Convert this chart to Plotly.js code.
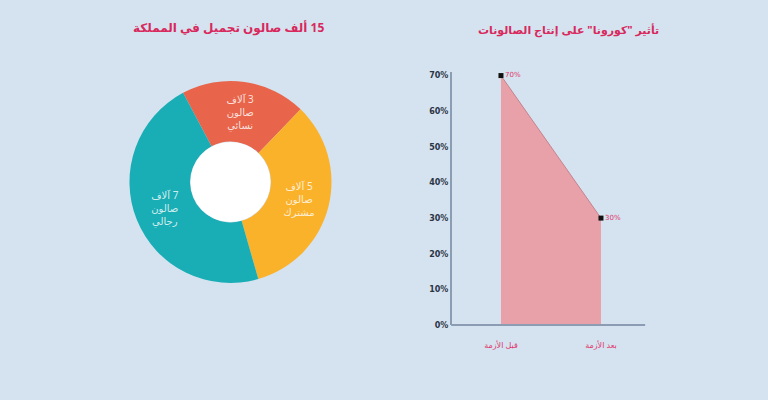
<!DOCTYPE html>
<html>
<head>
<meta charset="utf-8">
<script src="https://cdn.plot.ly/plotly-3.0.1.min.js"></script>
<style>
html,body{margin:0;padding:0;background:#D4E3EF;}
#chart{width:768px;height:400px;}
</style>
</head>
<body>
<div id="chart"></div>
<script>
// ---- data ----
const RLM = '\u200F';
const pieTitle = RLM + '15 ألف صالون تجميل في المملكة';
const pieLabels = ['صالون نسائي', 'صالون مشترك', 'صالون رجالي'];
const pieValues = [3, 5, 7];
const pieTexts = [RLM + '3 آلاف<br>صالون<br>نسائي', RLM + '5 آلاف<br>صالون<br>مشترك', RLM + '7 آلاف<br>صالون<br>رجالي'];
const pieColors = ['#E8654B', '#FBB22B', '#19ADB5'];

const areaTitle = 'تأثير "كورونا" على إنتاج الصالونات';
const areaCats = ['قبل الأزمة', 'بعد الأزمة'];
const areaValues = [70, 30];
const areaLabels = ['70%', '30%'];
const yTickVals = [0, 10, 20, 30, 40, 50, 60, 70];
const yTickText = ['0%', '10%', '20%', '30%', '40%', '50%', '60%', '70%'];

const titleColor = '#D8285D';
const pinkText = '#E0356B';

const data = [
  {
    type: 'pie',
    labels: pieLabels,
    values: pieValues,
    text: pieTexts,
    textinfo: 'text',
    textposition: 'inside',
    insidetextorientation: 'horizontal',
    insidetextfont: {family: 'Noto Sans, DejaVu Sans, sans-serif', size: 10, color: 'rgba(255,255,255,0.8)'},
    hole: 0.4,
    sort: false,
    direction: 'clockwise',
    rotation: -28,
    marker: {colors: pieColors, line: {width: 0}},
    domain: {x: [0.1660, 0.4342], y: [0.2925, 0.7975]},
    showlegend: false
  },
  {
    type: 'scatter',
    mode: 'lines+markers+text',
    x: areaCats,
    y: areaValues,
    text: areaLabels,
    textposition: 'middle right',
    textfont: {family: 'DejaVu Sans, sans-serif', size: 7, color: pinkText},
    fill: 'tozeroy',
    fillcolor: '#E8A0A9',
    line: {color: '#C4848F', width: 1},
    marker: {symbol: 'square', size: 5, color: '#111'},
    xaxis: 'x',
    yaxis: 'y',
    showlegend: false,
    cliponaxis: false
  }
];

const layout = {
  width: 768,
  height: 400,
  margin: {l: 0, r: 0, t: 0, b: 0},
  paper_bgcolor: '#D4E3EF',
  plot_bgcolor: 'rgba(0,0,0,0)',
  font: {family: 'Noto Sans, DejaVu Sans, sans-serif'},
  xaxis: {
    domain: [0.5885, 0.8398],
    range: [-0.49, 1.44],
    type: 'category',
    showgrid: false,
    zeroline: false,
    showline: false,
    ticks: '',
    ticklabelstandoff: 14,
    tickfont: {size: 8, color: pinkText, family: 'Noto Sans, DejaVu Sans, sans-serif'}
  },
  yaxis: {
    domain: [0.1875, 0.82],
    range: [0, 71],
    tickmode: 'array',
    tickvals: yTickVals,
    ticktext: yTickText,
    showgrid: false,
    zeroline: false,
    showline: true,
    linecolor: '#8C9CB2',
    linewidth: 2,
    ticks: '',
    tickfont: {size: 8, color: '#2B3444', family: 'DejaVu Sans, sans-serif', weight: 'bold'}
  },
  shapes: [
    {type: 'line', xref: 'paper', yref: 'paper', x0: 0.5875, x1: 0.84, y0: 0.1875, y1: 0.1875,
     line: {color: '#8C9CB2', width: 2}},
    {type: 'circle', xref: 'paper', yref: 'paper', xsizemode: 'pixel', ysizemode: 'pixel',
     xanchor: 0.3001, yanchor: 0.545, x0: -40, x1: 40, y0: -40, y1: 40,
     fillcolor: '#FFFFFF', line: {width: 0}, layer: 'above'}
  ],
  annotations: [
    {text: pieTitle, xref: 'paper', yref: 'paper', x: 0.297, y: 0.932, showarrow: false,
     xanchor: 'center', yanchor: 'middle',
     font: {size: 12, color: titleColor, family: 'Noto Sans, DejaVu Sans, sans-serif', weight: 'bold'}},
    {text: areaTitle, xref: 'paper', yref: 'paper', x: 0.74, y: 0.925, showarrow: false,
     xanchor: 'center', yanchor: 'middle',
     font: {size: 11, color: titleColor, family: 'Noto Sans, DejaVu Sans, sans-serif', weight: 'bold'}}
  ]
};

Plotly.newPlot('chart', data, layout, {displayModeBar: false, staticPlot: true});
</script>
</body>
</html>
